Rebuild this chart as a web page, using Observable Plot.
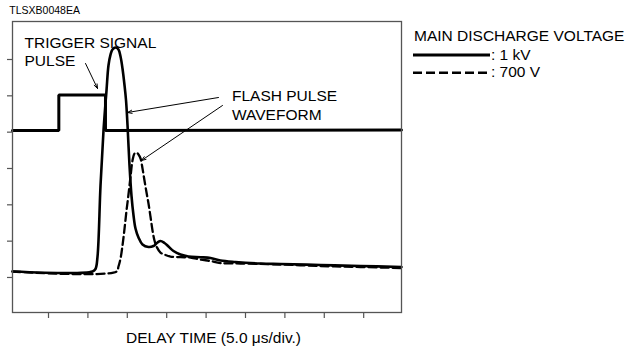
<!DOCTYPE html>
<html><head><meta charset="utf-8">
<script src="https://cdn.jsdelivr.net/npm/d3@7"></script>
<script src="https://cdn.jsdelivr.net/npm/@observablehq/plot@0.6"></script>
<style>
body{margin:0;background:#fff;}
#wrap{position:relative;width:631px;height:348px;font-family:"Liberation Sans",Arial,Helvetica,sans-serif;}
#wrap svg{position:absolute;left:0;top:0;}
</style></head><body><div id="wrap"></div>
<script>
// time in µs, signal in vertical divisions
const triggerT = [0.43, 6.31, 6.31, 12.23, 12.23, 49.80];
const triggerV = [5.045, 5.045, 6.023, 6.023, 5.045, 5.06];

const kv1T = [0.43, 10.58, 10.96, 11.22, 11.60, 11.98, 12.36, 12.61, 12.87, 13.12, 13.50, 13.88, 14.14, 14.39, 14.65, 14.84, 15.03, 15.28, 15.53, 15.79, 16.04, 16.42, 16.93, 17.69, 18.32, 18.83, 19.21, 19.72, 20.23, 20.86, 21.75, 22.77, 24.29, 25.56, 26.83, 28.73, 31.90, 34.44, 39.52, 44.59, 49.80];
const kv1V = [1.164, 1.164, 1.233, 1.577, 3.531, 5.045, 6.146, 6.834, 7.137, 7.275, 7.330, 7.275, 7.082, 6.752, 6.284, 5.871, 5.183, 4.082, 3.256, 2.706, 2.348, 2.100, 1.907, 1.839, 1.866, 1.963, 2.004, 1.949, 1.852, 1.729, 1.632, 1.577, 1.558, 1.536, 1.467, 1.426, 1.385, 1.371, 1.343, 1.316, 1.288];

const v700T = [0.43, 13.63, 13.88, 14.14, 14.39, 14.65, 14.90, 15.15, 15.41, 15.66, 15.91, 16.17, 16.42, 16.68, 16.93, 17.18, 17.44, 17.69, 17.94, 18.20, 18.45, 18.71, 19.21, 19.85, 20.48, 21.75, 23.02, 24.29, 25.56, 26.83, 29.37, 34.44, 39.52, 44.59, 49.80];
const v700V = [1.164, 1.164, 1.302, 1.522, 1.880, 2.348, 2.843, 3.284, 3.779, 4.220, 4.412, 4.440, 4.385, 4.275, 3.999, 3.669, 3.339, 3.036, 2.678, 2.293, 2.018, 1.852, 1.687, 1.618, 1.577, 1.558, 1.550, 1.495, 1.453, 1.398, 1.385, 1.357, 1.316, 1.288, 1.261];

const xTicks = [5, 10, 15, 20, 25, 30, 35, 40, 45];
const yTicks = [1, 2, 3, 4, 5, 6, 7];

const labelTexts = ["TRIGGER SIGNAL\nPULSE", "FLASH PULSE\nWAVEFORM"];
const labelT = [1.95, 28.29];
const labelV = [7.69, 6.22];

const arrowT1 = [9.70, 26.57, 27.08];
const arrowV1 = [6.890, 5.954, 5.734];
const arrowT2 = [11.22, 15.03, 16.80];
const arrowV2 = [6.201, 5.541, 4.220];

const xLabel = "DELAY TIME (5.0 μs/div.)";
const docCode = "TLSXB0048EA";
const legendTitle = "MAIN DISCHARGE VOLTAGE";
const seriesNames = [": 1 kV", ": 700 V"];

const pts = (T, V) => T.map((t, i) => ({t, v: V[i]}));
const labels = labelTexts.map((s, i) => ({s, t: labelT[i], v: labelV[i]}));
const arrows = arrowT1.map((t, i) => ({x1: t, y1: arrowV1[i], x2: arrowT2[i], y2: arrowV2[i]}));
const FONT = '"Liberation Sans",Arial,Helvetica,sans-serif';

const chart = Plot.plot({
  width: 631, height: 348,
  marginLeft: 12, marginRight: 230, marginTop: 21, marginBottom: 36,
  style: {fontFamily: FONT, background: "#fff"},
  x: {domain: [0.43, 49.8]},
  y: {domain: [0.036, 8.046]},
  marks: [
    Plot.axisX({ticks: xTicks, tickSize: 6, tickFormat: () => "", label: null, stroke: "#555", strokeWidth: 1.2}),
    Plot.axisY({ticks: yTicks, tickSize: 5, tickFormat: () => "", label: null, stroke: "#555", strokeWidth: 1.2}),
    Plot.line(pts(triggerT, triggerV), {x: "t", y: "v", stroke: "#000", strokeWidth: 3, strokeLinejoin: "miter"}),
    Plot.line(pts(v700T, v700V), {x: "t", y: "v", stroke: "#000", strokeWidth: 2.3, strokeDasharray: "8,4", curve: "catmull-rom"}),
    Plot.line(pts(kv1T, kv1V), {x: "t", y: "v", stroke: "#000", strokeWidth: 2.6, curve: "catmull-rom"}),
    Plot.arrow(arrows, {x1: "x1", y1: "y1", x2: "x2", y2: "y2", stroke: "#000", strokeWidth: 1, headLength: 7, headAngle: 40}),
    Plot.text(labels, {x: "t", y: "v", text: "s", textAnchor: "start", lineAnchor: "top", lineHeight: 1.2, fontSize: 15.5, fill: "#000"}),
    Plot.text([xLabel], {x: () => 25.94, frameAnchor: "bottom", dy: 30, lineAnchor: "bottom", text: d => d, fontSize: 15.5, fill: "#000"}),
    Plot.frame({stroke: "#555", strokeWidth: 1.3})
  ]
});
const wrap = document.getElementById("wrap");
wrap.appendChild(chart);

// legend and document code
const svg = d3.select(wrap).append("svg").attr("width", 631).attr("height", 348)
  .style("pointer-events", "none").style("font-family", FONT);
svg.append("text").attr("x", 9.3).attr("y", 14).attr("font-size", 10.5).text(docCode);
svg.append("text").attr("x", 414).attr("y", 40.7).attr("font-size", 15.5).text(legendTitle);
const styles = [{w: 3, d: null, y: 55}, {w: 2.5, d: "9,4", y: 72.7}];
seriesNames.forEach((name, i) => {
  const s = styles[i];
  const l = svg.append("line").attr("x1", 413).attr("x2", 490).attr("y1", s.y).attr("y2", s.y)
    .attr("stroke", "#000").attr("stroke-width", s.w);
  if (s.d) l.attr("stroke-dasharray", s.d);
  svg.append("text").attr("x", 491).attr("y", s.y + 4.5).attr("font-size", 15.5).text(name);
});
</script></body></html>
